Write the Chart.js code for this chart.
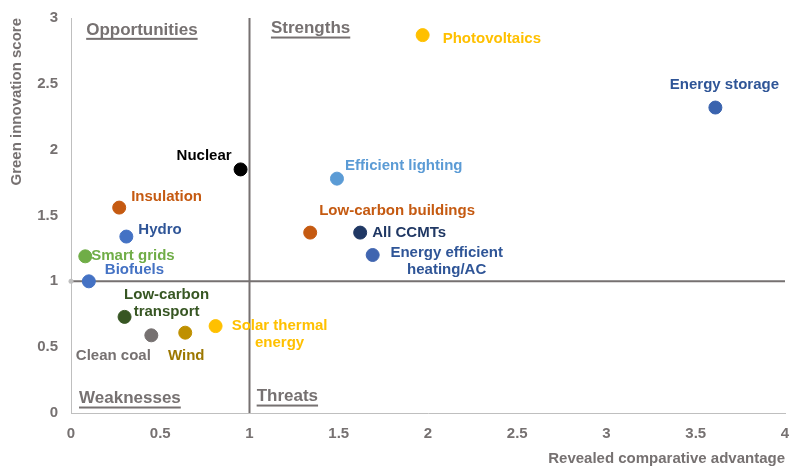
<!DOCTYPE html>
<html>
<head>
<meta charset="utf-8">
<script src="https://cdn.jsdelivr.net/npm/chart.js@4"></script>
<style>
  html, body { margin: 0; padding: 0; background: #fff; }
  #wrap { width: 794px; height: 468px; }
</style>
</head>
<body>
<div id="wrap"><canvas id="myChart"></canvas></div>
<script>
//data
const techNames = ['Photovoltaics', 'Energy storage', 'Nuclear', 'Efficient lighting', 'Insulation',
  'Low-carbon buildings', 'All CCMTs', 'Hydro', 'Energy efficient heating/AC', 'Smart grids',
  'Biofuels', 'Low-carbon transport', 'Clean coal', 'Wind', 'Solar thermal energy'];
const rcaValues = [1.97, 3.61, 0.95, 1.49, 0.27, 1.34, 1.62, 0.31, 1.69, 0.08, 0.10, 0.30, 0.45, 0.64, 0.81];
const innovationScores = [2.87, 2.32, 1.85, 1.78, 1.56, 1.37, 1.37, 1.34, 1.20, 1.19, 1.00, 0.73, 0.59, 0.61, 0.66];
const xTicks = [0, 0.5, 1, 1.5, 2, 2.5, 3, 3.5, 4];
const yTicks = [0, 0.5, 1, 1.5, 2, 2.5, 3];
const quadrantNames = ['Opportunities', 'Strengths', 'Weaknesses', 'Threats'];

//styles
const pointColors = ['#FFC000', '#3A63AE', '#000000', '#5B9BD5', '#C55A11', '#C55A11', '#203864', '#4472C4',
  '#4065B0', '#70AD47', '#4472C4', '#375623', '#767171', '#BF9000', '#FFC000'];
const labelColors = ['#FFC000', '#2F5597', '#000000', '#5B9BD5', '#C55A11', '#C55A11', '#203864', '#2F5597',
  '#2F5597', '#70AD47', '#4472C4', '#375623', '#767171', '#9C7700', '#FFC000'];
//label lines, offset from point in px, text align
const labelLayout = [
  {lines: ['Photovoltaics'], dx: 20, dy: 4, align: 'left'},
  {lines: ['Energy storage'], dx: 9, dy: -23, align: 'center'},
  {lines: ['Nuclear'], dx: -9, dy: -14, align: 'right'},
  {lines: ['Efficient lighting'], dx: 8, dy: -13, align: 'left'},
  {lines: ['Insulation'], dx: 12, dy: -11, align: 'left'},
  {lines: ['Low-carbon buildings'], dx: 9, dy: -22, align: 'left'},
  {lines: ['All CCMTs'], dx: 12, dy: 0, align: 'left'},
  {lines: ['Hydro'], dx: 12, dy: -7, align: 'left'},
  {lines: ['Energy efficient', 'heating/AC'], dx: 74, dy: -2, align: 'center'},
  {lines: ['Smart grids'], dx: 6, dy: 0, align: 'left'},
  {lines: ['Biofuels'], dx: 16, dy: -11, align: 'left'},
  {lines: ['Low-carbon', 'transport'], dx: 42, dy: -22, align: 'center'},
  {lines: ['Clean coal'], dx: -38, dy: 21, align: 'center'},
  {lines: ['Wind'], dx: 1, dy: 23, align: 'center'},
  {lines: ['Solar thermal', 'energy'], dx: 64, dy: 0, align: 'center'}
];
//quadrant label anchors in data units (left edge, vertical middle)
const quadrantPlace = [[0.085, 2.91], [1.12, 2.92], [0.045, 0.11], [1.04, 0.125]];

const FONT = "'Liberation Sans', Arial, sans-serif";
const GREY = '#767171';

const pointLabels = {
  id: 'pointLabels',
  beforeDatasetsDraw(chart) {
    const {ctx, scales: {x, y}, chartArea} = chart;
    const x1 = x.getPixelForValue(1), y1 = y.getPixelForValue(1);
    ctx.save();
    ctx.strokeStyle = GREY;
    ctx.lineWidth = 2;
    ctx.beginPath();
    ctx.moveTo(x1, chartArea.top);
    ctx.lineTo(x1, chartArea.bottom);
    ctx.moveTo(chartArea.left, y1);
    ctx.lineTo(chartArea.right, y1);
    ctx.stroke();
    ctx.fillStyle = '#BFBFBF';
    ctx.beginPath();
    ctx.arc(chartArea.left, y1, 2.5, 0, Math.PI * 2);
    ctx.fill();

    //quadrant labels
    ctx.font = 'bold 17px ' + FONT;
    ctx.fillStyle = GREY;
    ctx.textBaseline = 'middle';
    ctx.textAlign = 'left';
    quadrantNames.forEach((q, i) => {
      const px = x.getPixelForValue(quadrantPlace[i][0]);
      const py = y.getPixelForValue(quadrantPlace[i][1]);
      ctx.fillText(q, px, py);
      const w = ctx.measureText(q).width;
      ctx.fillRect(px, py + 8, w, 2);
    });
    ctx.restore();
  },
  afterDatasetsDraw(chart) {
    const {ctx} = chart;
    const meta = chart.getDatasetMeta(0);
    ctx.save();
    ctx.font = 'bold 15px ' + FONT;
    ctx.textBaseline = 'middle';
    meta.data.forEach((pt, i) => {
      const l = labelLayout[i];
      ctx.fillStyle = labelColors[i];
      ctx.textAlign = l.align;
      l.lines.forEach((line, j) => {
        ctx.fillText(line, pt.x + l.dx, pt.y + l.dy + j * 17);
      });
    });
    ctx.restore();
  }
};

let config = {
  type: 'scatter',
  data: {
    datasets: [{
      label: 'Technologies',
      data: techNames.map((n, i) => ({x: rcaValues[i], y: innovationScores[i]})),
      pointBackgroundColor: pointColors,
      pointBorderColor: pointColors,
      pointRadius: 6.5,
      pointHoverRadius: 6.5
    }]
  },
  options: {
    responsive: true,
    maintainAspectRatio: false,
    animation: false,
    layout: {
      padding: {top: 18, right: 9, left: 0, bottom: 0}
    },
    scales: {
      x: {
        type: 'linear',
        min: 0,
        max: 4,
        afterBuildTicks: s => { s.ticks = xTicks.map(v => ({value: v})); },
        afterFit: s => { s.height = 55; s.paddingRight = 0; s.paddingLeft = 0; },
        grid: {display: false, drawTicks: false},
        border: {display: true, color: '#BFBFBF', width: 1},
        ticks: {color: GREY, font: {family: FONT, size: 15, weight: 'bold'}, padding: 12, maxRotation: 0,
          callback: v => String(v)},
        title: {display: true, text: 'Revealed comparative advantage', align: 'end', color: GREY,
          font: {family: FONT, size: 15, weight: 'bold'}, padding: {top: 0, bottom: 0}}
      },
      y: {
        type: 'linear',
        min: 0,
        max: 3,
        afterBuildTicks: s => { s.ticks = yTicks.map(v => ({value: v})); },
        afterFit: s => { s.width = 71; s.paddingTop = 0; s.paddingBottom = 0; },
        grid: {display: false, drawTicks: false},
        border: {display: true, color: '#BFBFBF', width: 1},
        ticks: {color: GREY, font: {family: FONT, size: 15, weight: 'bold'}, padding: 13,
          callback: v => String(v)},
        title: {display: true, text: 'Green innovation score', align: 'end', color: GREY,
          font: {family: FONT, size: 15, weight: 'bold'}, padding: {top: 8, bottom: 0}}
      }
    },
    plugins: {
      legend: {display: false},
      tooltip: {enabled: false}
    }
  },
  plugins: [pointLabels]
};

let newChart = new Chart(document.getElementById('myChart'), config);
</script>
</body>
</html>
